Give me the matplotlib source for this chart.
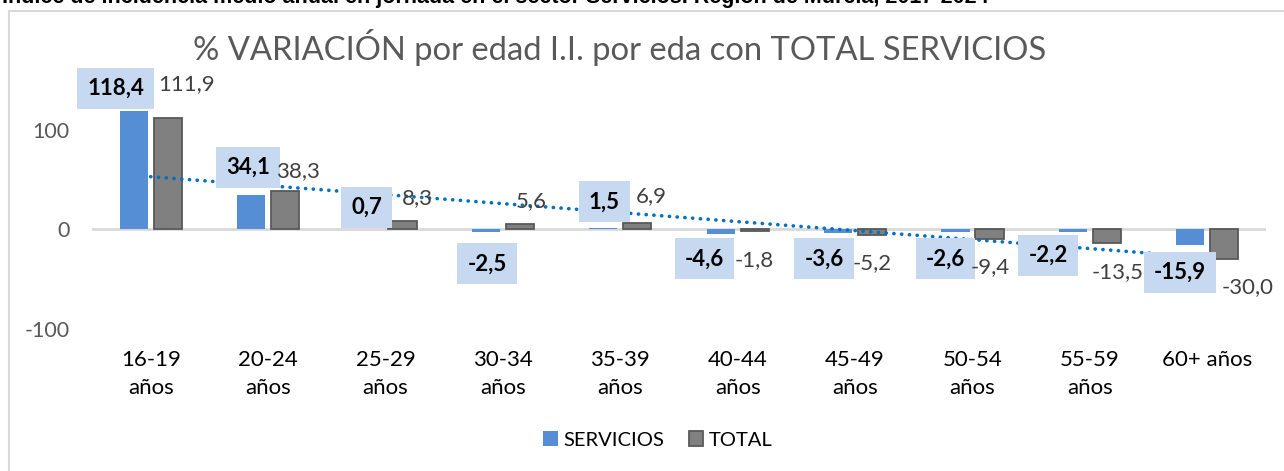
import numpy as np
import matplotlib.pyplot as plt
from matplotlib.lines import Line2D
from matplotlib.patches import Patch

plt.rcParams['font.family'] = ['Lato', 'DejaVu Sans']

categorias = ['16-19\naños', '20-24\naños', '25-29\naños', '30-34\naños', '35-39\naños',
              '40-44\naños', '45-49\naños', '50-54\naños', '55-59\naños', '60+ años']
servicios = [118.4, 34.1, 0.7, -2.5, 1.5, -4.6, -3.6, -2.6, -2.2, -15.9]
total = [111.9, 38.3, 8.3, 5.6, 6.9, -1.8, -5.2, -9.4, -13.5, -30.0]
yticks = [-100, 0, 100]

# desplazamiento manual de etiquetas (pixeles), como en el original
serv_dx = [-18, -3, -2, 1, 1, -16, -14, -10, -25, -10]
serv_dy = [23, 28, 21, 32, 26, 25, 26, 27, 24, 27]
tot_dx = [19, 13, 15, 11, 14, 0, 0, 1, 11, 23]
tot_dy = [34, 20, 23, 23, 26, 29, 29, 28, 29, 28]

W, H = 1284, 471
fig = plt.figure(figsize=(W / 100, H / 100), dpi=100)
ax = fig.add_axes([92 / W, (H - 329) / H, 1174 / W, 249 / H])

x = np.arange(len(categorias))
off, bw = 0.145, 0.24
ax.bar(x - off, servicios, bw, color='#558ED5', zorder=2)
ax.bar(x + off, total, bw, color='#808080', edgecolor='#595959', linewidth=1.3, zorder=2)

# linea de tendencia lineal de SERVICIOS
m, b = np.polyfit(x, servicios, 1)
ax.plot(x, m * x + b, color='#0070C0', linewidth=2.6, linestyle=(0, (0.05, 2.1)),
        dash_capstyle='round', zorder=3)

ax.axhline(0, color='#D9D9D9', linewidth=2, zorder=1)

def fmt(v):
    return f'{v:.1f}'.replace('.', ',')

for xi, v, dx, dy in zip(x, servicios, serv_dx, serv_dy):
    ax.annotate(fmt(v), (xi - off, v), xytext=(dx, dy if v >= 0 else -dy),
                textcoords='offset pixels', ha='center', va='center', fontsize=16,
                fontweight='bold', color='black',
                bbox=dict(boxstyle='square,pad=0.45', fc='#C6D9F1', ec='none'), zorder=4)

for xi, v, dx, dy in zip(x, total, tot_dx, tot_dy):
    ax.annotate(fmt(v), (xi + off, v), xytext=(dx, dy if v >= 0 else -dy),
                textcoords='offset pixels', ha='center', va='center', fontsize=16,
                color='#404040', zorder=4)

ax.set_xlim(-0.5, len(categorias) - 0.5)
ax.set_ylim(-100, 150)
ax.set_yticks(yticks)
ax.set_yticklabels([str(t) for t in yticks], fontsize=15.5, color='#595959')
ax.set_xticks(x)
ax.set_xticklabels(categorias, fontsize=16, color='black', linespacing=1.5, va='top')
ax.tick_params(axis='both', length=0)
ax.tick_params(axis='x', pad=15)
ax.tick_params(axis='y', pad=16)
for s in ax.spines.values():
    s.set_visible(False)

fig.text(620 / W, 1 - 47 / H, '% VARIACIÓN por edad I.I. por eda con TOTAL SERVICIOS',
         ha='center', va='center', fontsize=23.6, color='#595959')

# titulo superior cortado
fig.text(2 / W, 1 - 3 / H,
         'Índice de incidencia medio anual en jornada en el sector Servicios. Región de Murcia, 2017-2024',
         ha='left', va='baseline', fontsize=15.5, fontweight='bold',
         family=['Liberation Sans', 'DejaVu Sans'], color='black')

# marco del grafico
fig.add_artist(Line2D([9 / W, 9 / W], [0, 1 - 11 / H], color='#D9D9D9', linewidth=1.5))
fig.add_artist(Line2D([9 / W, 1], [1 - 11 / H, 1 - 11 / H], color='#D9D9D9', linewidth=1.5))

handles = [Patch(facecolor='#558ED5', label='SERVICIOS'),
           Patch(facecolor='#808080', edgecolor='#595959', linewidth=1.3, label='TOTAL')]
fig.legend(handles=handles, loc='center', bbox_to_anchor=(658 / W, 1 - 440 / H), ncol=2,
           frameon=False, fontsize=14.5, handlelength=0.7, handleheight=0.7,
           handletextpad=0.3, columnspacing=1.2)

fig.savefig('out.png', dpi=100)
